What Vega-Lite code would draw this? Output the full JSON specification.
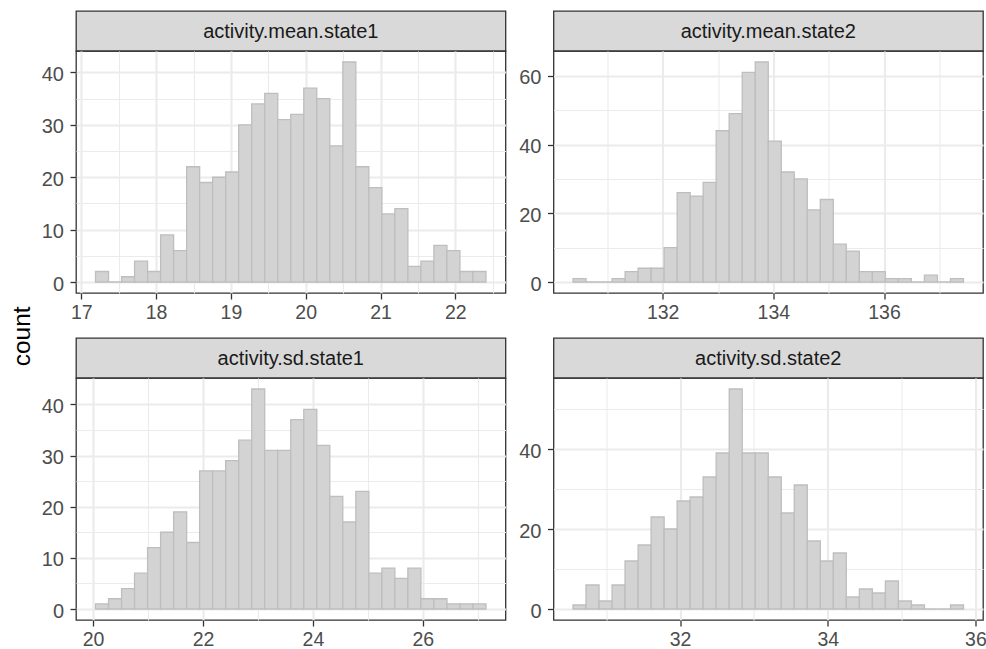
{
  "$schema": "https://vega.github.io/schema/vega-lite/v6.json",
  "padding": {"left": 8, "top": 10, "right": 0, "bottom": 0},
  "background": "white",
  "config": {
    "font": "Liberation Sans",
    "view": {"stroke": "#333333", "strokeWidth": 1.3},
    "axis": {
      "domain": false, "grid": true, "gridColor": "#ebebeb",
      "tickColor": "#333333", "tickWidth": 1.3, "tickSize": 6,
      "labelFont": "Liberation Sans", "labelFontSize": 20, "labelColor": "#4d4d4d",
      "labelFlush": false, "labelOverlap": false
    },
    "axisX": {"labelPadding": 4.5, "labelFontSize": 19.5},
    "axisY": {"labelPadding": 6.5, "labelOffset": 2}
  },
  "datasets": {
    "m1": [
      {"x0": 17.190, "x1": 17.364, "count": 2}, {"x0": 17.364, "x1": 17.538, "count": 0}, {"x0": 17.538, "x1": 17.712, "count": 1},
      {"x0": 17.712, "x1": 17.886, "count": 4}, {"x0": 17.886, "x1": 18.060, "count": 2}, {"x0": 18.060, "x1": 18.234, "count": 9},
      {"x0": 18.234, "x1": 18.408, "count": 6}, {"x0": 18.408, "x1": 18.582, "count": 22}, {"x0": 18.582, "x1": 18.756, "count": 19},
      {"x0": 18.756, "x1": 18.930, "count": 20}, {"x0": 18.930, "x1": 19.104, "count": 21}, {"x0": 19.104, "x1": 19.278, "count": 30},
      {"x0": 19.278, "x1": 19.452, "count": 34}, {"x0": 19.452, "x1": 19.626, "count": 36}, {"x0": 19.626, "x1": 19.800, "count": 31},
      {"x0": 19.800, "x1": 19.974, "count": 32}, {"x0": 19.974, "x1": 20.148, "count": 37}, {"x0": 20.148, "x1": 20.322, "count": 35},
      {"x0": 20.322, "x1": 20.496, "count": 26}, {"x0": 20.496, "x1": 20.670, "count": 42}, {"x0": 20.670, "x1": 20.844, "count": 22},
      {"x0": 20.844, "x1": 21.018, "count": 18}, {"x0": 21.018, "x1": 21.192, "count": 13}, {"x0": 21.192, "x1": 21.366, "count": 14},
      {"x0": 21.366, "x1": 21.540, "count": 3}, {"x0": 21.540, "x1": 21.714, "count": 4}, {"x0": 21.714, "x1": 21.888, "count": 7},
      {"x0": 21.888, "x1": 22.062, "count": 6}, {"x0": 22.062, "x1": 22.236, "count": 2}, {"x0": 22.236, "x1": 22.410, "count": 2}
    ],
    "m2": [
      {"x0": 130.380, "x1": 130.615, "count": 1}, {"x0": 130.615, "x1": 130.850, "count": 0}, {"x0": 130.850, "x1": 131.086, "count": 0},
      {"x0": 131.086, "x1": 131.321, "count": 1}, {"x0": 131.321, "x1": 131.556, "count": 3}, {"x0": 131.556, "x1": 131.791, "count": 4},
      {"x0": 131.791, "x1": 132.026, "count": 4}, {"x0": 132.026, "x1": 132.262, "count": 10}, {"x0": 132.262, "x1": 132.497, "count": 26},
      {"x0": 132.497, "x1": 132.732, "count": 25}, {"x0": 132.732, "x1": 132.967, "count": 29}, {"x0": 132.967, "x1": 133.202, "count": 44},
      {"x0": 133.202, "x1": 133.438, "count": 49}, {"x0": 133.438, "x1": 133.673, "count": 61}, {"x0": 133.673, "x1": 133.908, "count": 64},
      {"x0": 133.908, "x1": 134.143, "count": 41}, {"x0": 134.143, "x1": 134.378, "count": 32}, {"x0": 134.378, "x1": 134.614, "count": 30},
      {"x0": 134.614, "x1": 134.849, "count": 21}, {"x0": 134.849, "x1": 135.084, "count": 24}, {"x0": 135.084, "x1": 135.319, "count": 11},
      {"x0": 135.319, "x1": 135.554, "count": 9}, {"x0": 135.554, "x1": 135.790, "count": 3}, {"x0": 135.790, "x1": 136.025, "count": 3},
      {"x0": 136.025, "x1": 136.260, "count": 1}, {"x0": 136.260, "x1": 136.495, "count": 1}, {"x0": 136.495, "x1": 136.730, "count": 0},
      {"x0": 136.730, "x1": 136.966, "count": 2}, {"x0": 136.966, "x1": 137.201, "count": 0}, {"x0": 137.201, "x1": 137.436, "count": 1}
    ],
    "s1": [
      {"x0": 20.045, "x1": 20.282, "count": 1}, {"x0": 20.282, "x1": 20.519, "count": 2}, {"x0": 20.519, "x1": 20.755, "count": 4},
      {"x0": 20.755, "x1": 20.992, "count": 7}, {"x0": 20.992, "x1": 21.229, "count": 12}, {"x0": 21.229, "x1": 21.466, "count": 15},
      {"x0": 21.466, "x1": 21.703, "count": 19}, {"x0": 21.703, "x1": 21.939, "count": 13}, {"x0": 21.939, "x1": 22.176, "count": 27},
      {"x0": 22.176, "x1": 22.413, "count": 27}, {"x0": 22.413, "x1": 22.650, "count": 29}, {"x0": 22.650, "x1": 22.887, "count": 33},
      {"x0": 22.887, "x1": 23.123, "count": 43}, {"x0": 23.123, "x1": 23.360, "count": 31}, {"x0": 23.360, "x1": 23.597, "count": 31},
      {"x0": 23.597, "x1": 23.834, "count": 37}, {"x0": 23.834, "x1": 24.071, "count": 39}, {"x0": 24.071, "x1": 24.307, "count": 32},
      {"x0": 24.307, "x1": 24.544, "count": 22}, {"x0": 24.544, "x1": 24.781, "count": 17}, {"x0": 24.781, "x1": 25.018, "count": 23},
      {"x0": 25.018, "x1": 25.255, "count": 7}, {"x0": 25.255, "x1": 25.491, "count": 8}, {"x0": 25.491, "x1": 25.728, "count": 6},
      {"x0": 25.728, "x1": 25.965, "count": 8}, {"x0": 25.965, "x1": 26.202, "count": 2}, {"x0": 26.202, "x1": 26.439, "count": 2},
      {"x0": 26.439, "x1": 26.675, "count": 1}, {"x0": 26.675, "x1": 26.912, "count": 1}, {"x0": 26.912, "x1": 27.149, "count": 1}
    ],
    "s2": [
      {"x0": 30.550, "x1": 30.726, "count": 1}, {"x0": 30.726, "x1": 30.903, "count": 6}, {"x0": 30.903, "x1": 31.079, "count": 2},
      {"x0": 31.079, "x1": 31.255, "count": 6}, {"x0": 31.255, "x1": 31.432, "count": 12}, {"x0": 31.432, "x1": 31.608, "count": 16},
      {"x0": 31.608, "x1": 31.784, "count": 23}, {"x0": 31.784, "x1": 31.960, "count": 20}, {"x0": 31.960, "x1": 32.137, "count": 27},
      {"x0": 32.137, "x1": 32.313, "count": 28}, {"x0": 32.313, "x1": 32.489, "count": 33}, {"x0": 32.489, "x1": 32.666, "count": 39},
      {"x0": 32.666, "x1": 32.842, "count": 55}, {"x0": 32.842, "x1": 33.018, "count": 39}, {"x0": 33.018, "x1": 33.195, "count": 39},
      {"x0": 33.195, "x1": 33.371, "count": 33}, {"x0": 33.371, "x1": 33.547, "count": 24}, {"x0": 33.547, "x1": 33.723, "count": 31},
      {"x0": 33.723, "x1": 33.900, "count": 17}, {"x0": 33.900, "x1": 34.076, "count": 12}, {"x0": 34.076, "x1": 34.252, "count": 14},
      {"x0": 34.252, "x1": 34.429, "count": 3}, {"x0": 34.429, "x1": 34.605, "count": 5}, {"x0": 34.605, "x1": 34.781, "count": 4},
      {"x0": 34.781, "x1": 34.958, "count": 7}, {"x0": 34.958, "x1": 35.134, "count": 2}, {"x0": 35.134, "x1": 35.310, "count": 1},
      {"x0": 35.310, "x1": 35.486, "count": 0}, {"x0": 35.486, "x1": 35.663, "count": 0}, {"x0": 35.663, "x1": 35.839, "count": 1}
    ]
  },
  "columns": 2,
  "spacing": {"row": 0, "column": 47.5},
  "bounds": "flush",
  "align": "each",
  "concat": [
    {
      "width": 429.5, "height": 40,
      "data": {"values": [{"label": "activity.mean.state1"}]},
      "view": {"fill": "#d9d9d9", "stroke": "#333333", "strokeWidth": 1.3},
      "mark": {"type": "text", "fontSize": 20, "color": "#1a1a1a", "baseline": "middle", "dy": 1, "font": "Liberation Sans"},
      "encoding": {"text": {"field": "label"}}
    },
    {
      "width": 429.5, "height": 40,
      "data": {"values": [{"label": "activity.mean.state2"}]},
      "view": {"fill": "#d9d9d9", "stroke": "#333333", "strokeWidth": 1.3},
      "mark": {"type": "text", "fontSize": 20, "color": "#1a1a1a", "baseline": "middle", "dy": 1, "font": "Liberation Sans"},
      "encoding": {"text": {"field": "label"}}
    },
    {
      "width": 429.5, "height": 242,
      "data": {"name": "m1"},
      "mark": {"type": "rect", "fill": "#d3d3d3", "stroke": "#bebebe", "strokeWidth": 1.3},
      "encoding": {
        "x": {"field": "x0", "type": "quantitative",
          "scale": {"domain": [16.929, 22.671], "nice": false, "zero": false},
          "axis": {"title": null, "values": [17, 17.5, 18, 18.5, 19, 19.5, 20, 20.5, 21, 21.5, 22, 22.5],
            "labelExpr": "datum.value % 1 === 0 ? format(datum.value, 'd') : ''",
            "gridWidth": {"condition": {"test": "datum.value % 1 === 0", "value": 2.1}, "value": 1.1},
            "tickOpacity": {"condition": {"test": "datum.value % 1 === 0", "value": 1}, "value": 0}}},
        "x2": {"field": "x1"},
        "y": {"field": "count", "type": "quantitative",
          "scale": {"domain": [-2.1, 44.1], "nice": false, "zero": false},
          "axis": {"title": null, "values": [0, 5, 10, 15, 20, 25, 30, 35, 40],
            "labelExpr": "datum.value % 10 === 0 ? format(datum.value, 'd') : ''",
            "gridWidth": {"condition": {"test": "datum.value % 10 === 0", "value": 2.1}, "value": 1.1},
            "tickOpacity": {"condition": {"test": "datum.value % 10 === 0", "value": 1}, "value": 0}}},
        "y2": {"datum": 0}
      }
    },
    {
      "width": 429.5, "height": 242,
      "data": {"name": "m2"},
      "mark": {"type": "rect", "fill": "#d3d3d3", "stroke": "#bebebe", "strokeWidth": 1.3},
      "encoding": {
        "x": {"field": "x0", "type": "quantitative",
          "scale": {"domain": [130.027, 137.789], "nice": false, "zero": false},
          "axis": {"title": null, "values": [131, 132, 133, 134, 135, 136, 137],
            "labelExpr": "datum.value % 2 === 0 ? format(datum.value, 'd') : ''",
            "gridWidth": {"condition": {"test": "datum.value % 2 === 0", "value": 2.1}, "value": 1.1},
            "tickOpacity": {"condition": {"test": "datum.value % 2 === 0", "value": 1}, "value": 0}}},
        "x2": {"field": "x1"},
        "y": {"field": "count", "type": "quantitative",
          "scale": {"domain": [-3.2, 67.2], "nice": false, "zero": false},
          "axis": {"title": null, "values": [0, 10, 20, 30, 40, 50, 60],
            "labelExpr": "datum.value % 20 === 0 ? format(datum.value, 'd') : ''",
            "gridWidth": {"condition": {"test": "datum.value % 20 === 0", "value": 2.1}, "value": 1.1},
            "tickOpacity": {"condition": {"test": "datum.value % 20 === 0", "value": 1}, "value": 0}}},
        "y2": {"datum": 0}
      }
    },
    {
      "width": 429.5, "height": 44.7,
      "data": {"values": [{"label": ""}]},
      "view": {"stroke": null, "fill": null},
      "mark": {"type": "text"},
      "encoding": {"text": {"field": "label"}}
    },
    {
      "width": 429.5, "height": 44.7,
      "data": {"values": [{"label": ""}]},
      "view": {"stroke": null, "fill": null},
      "mark": {"type": "text"},
      "encoding": {"text": {"field": "label"}}
    },
    {
      "width": 429.5, "height": 40,
      "data": {"values": [{"label": "activity.sd.state1"}]},
      "view": {"fill": "#d9d9d9", "stroke": "#333333", "strokeWidth": 1.3},
      "mark": {"type": "text", "fontSize": 20, "color": "#1a1a1a", "baseline": "middle", "dy": 1, "font": "Liberation Sans"},
      "encoding": {"text": {"field": "label"}}
    },
    {
      "width": 429.5, "height": 40,
      "data": {"values": [{"label": "activity.sd.state2"}]},
      "view": {"fill": "#d9d9d9", "stroke": "#333333", "strokeWidth": 1.3},
      "mark": {"type": "text", "fontSize": 20, "color": "#1a1a1a", "baseline": "middle", "dy": 1, "font": "Liberation Sans"},
      "encoding": {"text": {"field": "label"}}
    },
    {
      "width": 429.5, "height": 242,
      "data": {"name": "s1"},
      "mark": {"type": "rect", "fill": "#d3d3d3", "stroke": "#bebebe", "strokeWidth": 1.3},
      "encoding": {
        "x": {"field": "x0", "type": "quantitative",
          "scale": {"domain": [19.69, 27.504], "nice": false, "zero": false},
          "axis": {"title": null, "values": [20, 21, 22, 23, 24, 25, 26, 27],
            "labelExpr": "datum.value % 2 === 0 ? format(datum.value, 'd') : ''",
            "gridWidth": {"condition": {"test": "datum.value % 2 === 0", "value": 2.1}, "value": 1.1},
            "tickOpacity": {"condition": {"test": "datum.value % 2 === 0", "value": 1}, "value": 0}}},
        "x2": {"field": "x1"},
        "y": {"field": "count", "type": "quantitative",
          "scale": {"domain": [-2.15, 45.15], "nice": false, "zero": false},
          "axis": {"values": [0, 5, 10, 15, 20, 25, 30, 35, 40],
            "labelExpr": "datum.value % 10 === 0 ? format(datum.value, 'd') : ''",
            "gridWidth": {"condition": {"test": "datum.value % 10 === 0", "value": 2.1}, "value": 1.1},
            "tickOpacity": {"condition": {"test": "datum.value % 10 === 0", "value": 1}, "value": 0},
            "title": "count", "titleX": -46.4, "titleY": -42.2, "titleAngle": 270,
            "titleAlign": "center", "titleBaseline": "alphabetic",
            "titleFont": "Liberation Sans", "titleFontSize": 24.5, "titleFontWeight": "normal", "titleColor": "#000000"}},
        "y2": {"datum": 0}
      }
    },
    {
      "width": 429.5, "height": 242,
      "data": {"name": "s2"},
      "mark": {"type": "rect", "fill": "#d3d3d3", "stroke": "#bebebe", "strokeWidth": 1.3},
      "encoding": {
        "x": {"field": "x0", "type": "quantitative",
          "scale": {"domain": [30.286, 36.103], "nice": false, "zero": false},
          "axis": {"title": null, "values": [31, 32, 33, 34, 35, 36],
            "labelExpr": "datum.value % 2 === 0 ? format(datum.value, 'd') : ''",
            "gridWidth": {"condition": {"test": "datum.value % 2 === 0", "value": 2.1}, "value": 1.1},
            "tickOpacity": {"condition": {"test": "datum.value % 2 === 0", "value": 1}, "value": 0}}},
        "x2": {"field": "x1"},
        "y": {"field": "count", "type": "quantitative",
          "scale": {"domain": [-2.75, 57.75], "nice": false, "zero": false},
          "axis": {"title": null, "values": [0, 10, 20, 30, 40, 50],
            "labelExpr": "datum.value % 20 === 0 ? format(datum.value, 'd') : ''",
            "gridWidth": {"condition": {"test": "datum.value % 20 === 0", "value": 2.1}, "value": 1.1},
            "tickOpacity": {"condition": {"test": "datum.value % 20 === 0", "value": 1}, "value": 0}}},
        "y2": {"datum": 0}
      }
    }
  ]
}
